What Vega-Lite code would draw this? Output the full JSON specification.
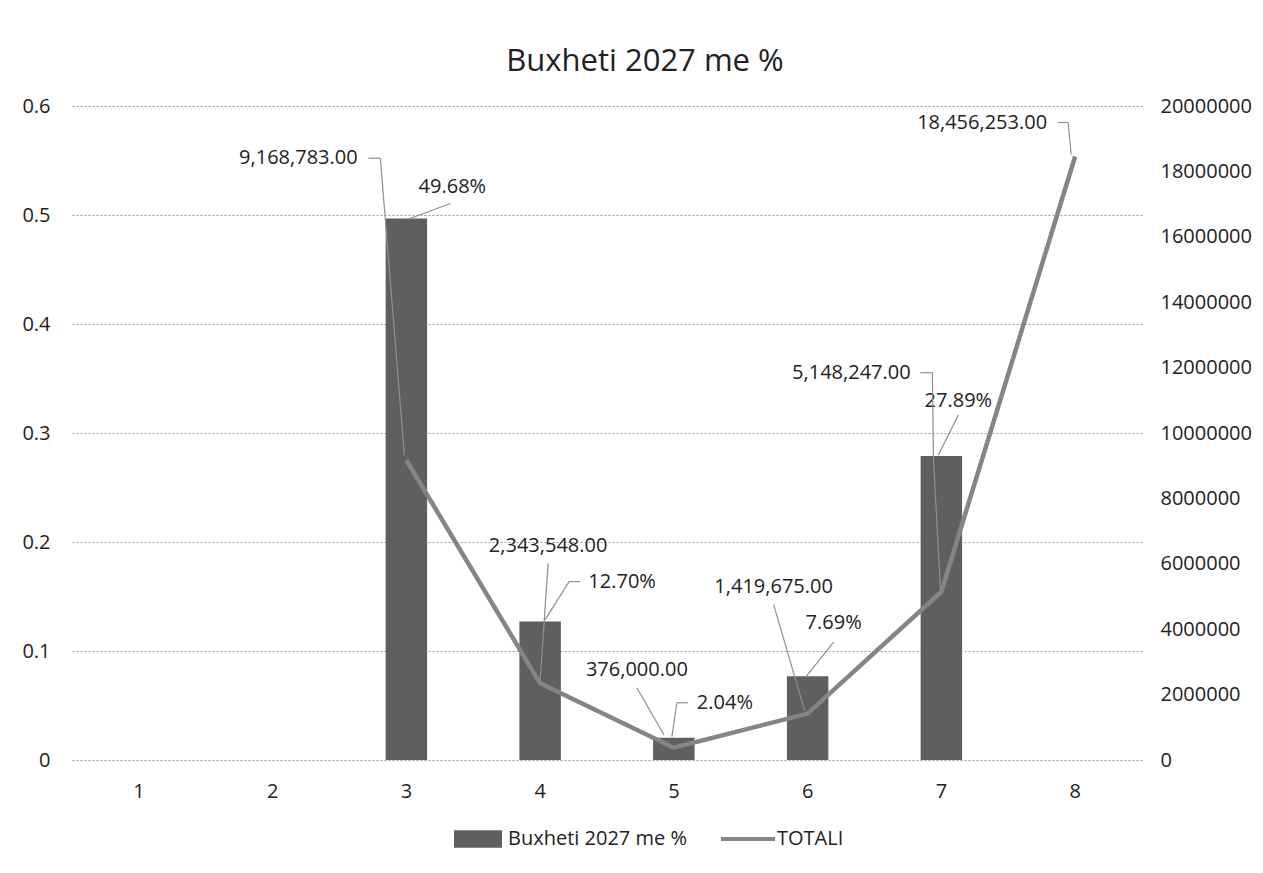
{
  "$schema": "https://vega.github.io/schema/vega-lite/v6.json",
  "width": 1070,
  "height": 654,
  "autosize": {"type": "none"},
  "padding": {"left": 72, "top": 106, "right": 121, "bottom": 113},
  "background": "white",
  "title": {"text": "Buxheti 2027 me %", "fontSize": 31, "font": "Open Sans", "fontWeight": "normal", "color": "#222222", "anchor": "middle", "dx": 38, "offset": 18, "frame": "group"},
  "config": {
    "view": {"stroke": null},
    "text": {"font": "Open Sans", "fontSize": 20, "color": "#222222"},
    "rule": {"color": "#8f8f8f", "strokeWidth": 1.2}
  },
  "data": {
    "values": [
      {"cat": 1, "pct": null, "total": null},
      {"cat": 2, "pct": null, "total": null},
      {"cat": 3, "pct": 0.4968, "total": 9168783},
      {"cat": 4, "pct": 0.127, "total": 2343548},
      {"cat": 5, "pct": 0.0204, "total": 376000},
      {"cat": 6, "pct": 0.0769, "total": 1419675},
      {"cat": 7, "pct": 0.2789, "total": 5148247},
      {"cat": 8, "pct": null, "total": 18456253}
    ]
  },
  "encoding": {
    "x": {
      "field": "cat", "type": "ordinal",
      "scale": {"domain": [1, 2, 3, 4, 5, 6, 7, 8], "paddingInner": 0, "paddingOuter": 0},
      "axis": {"title": null, "labelAngle": 0, "domain": false, "ticks": false, "tickSize": 0, "labelPadding": 21, "labelFontSize": 20, "labelFont": "Open Sans", "labelColor": "#222222"}
    }
  },
  "layer": [
    {
      "encoding": {
        "y": {
          "field": "pct", "type": "quantitative",
          "scale": {"domain": [0, 0.6], "nice": false},
          "axis": {"title": null, "values": [0, 0.1, 0.2, 0.3, 0.4, 0.5, 0.6], "format": ".1~f", "domain": false, "ticks": false, "tickSize": 0, "labelPadding": 22, "labelFontSize": 20, "labelFont": "Open Sans", "labelColor": "#222222", "grid": true, "gridDash": [2, 2], "gridColor": "#999999", "gridWidth": 1}
        }
      },
      "layer": [
        {
          "mark": {"type": "bar", "width": {"band": 0.31}},
          "encoding": {
            "fill": {"datum": "Buxheti 2027 me %", "type": "nominal", "scale": {"range": ["#5f5f5f"]},
              "legend": {"orient": "none", "legendX": 382, "legendY": 709, "title": null, "symbolType": "M-1,-0.36H1V0.36H-1Z", "symbolSize": 2304, "symbolStrokeWidth": 0, "labelFontSize": 20, "labelFont": "Open Sans", "labelColor": "#222222", "labelOffset": 6, "labelLimit": 400}}
          }
        },
        {"transform": [{"filter": "datum.cat == 3"}], "mark": {"type": "rule", "xOffset": 44, "yOffset": -15, "x2Offset": 1, "y2Offset": 1}, "encoding": {"x2": {"field": "cat"}, "y2": {"field": "pct"}}},
        {"transform": [{"filter": "datum.cat == 4"}], "mark": {"type": "rule", "xOffset": 29, "yOffset": -40, "x2Offset": 40, "y2Offset": -40}, "encoding": {"x2": {"field": "cat"}, "y2": {"field": "pct"}}},
        {"transform": [{"filter": "datum.cat == 4"}], "mark": {"type": "rule", "xOffset": 29, "yOffset": -40, "x2Offset": 5, "y2Offset": -2}, "encoding": {"x2": {"field": "cat"}, "y2": {"field": "pct"}}},
        {"transform": [{"filter": "datum.cat == 5"}], "mark": {"type": "rule", "xOffset": 3, "yOffset": -35, "x2Offset": 14, "y2Offset": -35}, "encoding": {"x2": {"field": "cat"}, "y2": {"field": "pct"}}},
        {"transform": [{"filter": "datum.cat == 5"}], "mark": {"type": "rule", "xOffset": 3, "yOffset": -35, "x2Offset": -2, "y2Offset": -1}, "encoding": {"x2": {"field": "cat"}, "y2": {"field": "pct"}}},
        {"transform": [{"filter": "datum.cat == 6"}], "mark": {"type": "rule", "xOffset": 26, "yOffset": -34, "x2Offset": -2, "y2Offset": 1}, "encoding": {"x2": {"field": "cat"}, "y2": {"field": "pct"}}},
        {"transform": [{"filter": "datum.cat == 7"}], "mark": {"type": "rule", "xOffset": 17, "yOffset": -41, "x2Offset": -3, "y2Offset": -1}, "encoding": {"x2": {"field": "cat"}, "y2": {"field": "pct"}}},
        {"transform": [{"filter": "datum.cat == 3"}], "mark": {"type": "text", "dx": 46, "dy": -31}, "encoding": {"text": {"field": "pct", "format": ".2%"}}},
        {"transform": [{"filter": "datum.cat == 4"}], "mark": {"type": "text", "dx": 82, "dy": -40}, "encoding": {"text": {"field": "pct", "format": ".2%"}}},
        {"transform": [{"filter": "datum.cat == 5"}], "mark": {"type": "text", "dx": 51, "dy": -35}, "encoding": {"text": {"field": "pct", "format": ".2%"}}},
        {"transform": [{"filter": "datum.cat == 6"}], "mark": {"type": "text", "dx": 26, "dy": -53}, "encoding": {"text": {"field": "pct", "format": ".2%"}}},
        {"transform": [{"filter": "datum.cat == 7"}], "mark": {"type": "text", "dx": 17, "dy": -55}, "encoding": {"text": {"field": "pct", "format": ".2%"}}}
      ]
    },
    {
      "encoding": {
        "y": {
          "field": "total", "type": "quantitative",
          "scale": {"domain": [0, 20000000], "nice": false},
          "axis": {"title": null, "orient": "right", "values": [0, 2000000, 4000000, 6000000, 8000000, 10000000, 12000000, 14000000, 16000000, 18000000, 20000000], "format": "d", "domain": false, "ticks": false, "tickSize": 0, "labelPadding": 18, "labelFontSize": 20, "labelFont": "Open Sans", "labelColor": "#222222", "grid": false}
        }
      },
      "layer": [
        {
          "transform": [{"filter": "datum.total != null"}],
          "mark": {"type": "line", "strokeWidth": 4.5},
          "encoding": {
            "stroke": {"datum": "TOTALI", "type": "nominal", "scale": {"range": ["#858585"]},
              "legend": {"orient": "none", "legendX": 647, "legendY": 704, "title": null, "symbolType": "stroke", "symbolSize": 2916, "symbolStrokeWidth": 4, "labelFontSize": 20, "labelFont": "Open Sans", "labelColor": "#222222", "labelOffset": 0, "labelLimit": 400}}
          }
        },
        {"transform": [{"filter": "datum.cat == 3"}], "mark": {"type": "rule", "xOffset": -38, "yOffset": -302, "x2Offset": -26, "y2Offset": -302}, "encoding": {"x2": {"field": "cat"}, "y2": {"field": "total"}}},
        {"transform": [{"filter": "datum.cat == 3"}], "mark": {"type": "rule", "xOffset": -26, "yOffset": -302, "x2Offset": -21, "y2Offset": -240}, "encoding": {"x2": {"field": "cat"}, "y2": {"field": "total"}}},
        {"transform": [{"filter": "datum.cat == 3"}], "mark": {"type": "rule", "xOffset": -21, "yOffset": -240, "x2Offset": -2, "y2Offset": -5}, "encoding": {"x2": {"field": "cat"}, "y2": {"field": "total"}}},
        {"transform": [{"filter": "datum.cat == 4"}], "mark": {"type": "rule", "xOffset": 8, "yOffset": -120, "x2Offset": 0, "y2Offset": -3}, "encoding": {"x2": {"field": "cat"}, "y2": {"field": "total"}}},
        {"transform": [{"filter": "datum.cat == 5"}], "mark": {"type": "rule", "xOffset": -37, "yOffset": -60, "x2Offset": -10, "y2Offset": -13}, "encoding": {"x2": {"field": "cat"}, "y2": {"field": "total"}}},
        {"transform": [{"filter": "datum.cat == 6"}], "mark": {"type": "rule", "xOffset": -34, "yOffset": -109, "x2Offset": -3, "y2Offset": -3}, "encoding": {"x2": {"field": "cat"}, "y2": {"field": "total"}}},
        {"transform": [{"filter": "datum.cat == 7"}], "mark": {"type": "rule", "xOffset": -21, "yOffset": -219, "x2Offset": -9, "y2Offset": -219}, "encoding": {"x2": {"field": "cat"}, "y2": {"field": "total"}}},
        {"transform": [{"filter": "datum.cat == 7"}], "mark": {"type": "rule", "xOffset": -9, "yOffset": -219, "x2Offset": -8, "y2Offset": -135}, "encoding": {"x2": {"field": "cat"}, "y2": {"field": "total"}}},
        {"transform": [{"filter": "datum.cat == 7"}], "mark": {"type": "rule", "xOffset": -8, "yOffset": -135, "x2Offset": -1, "y2Offset": -3}, "encoding": {"x2": {"field": "cat"}, "y2": {"field": "total"}}},
        {"transform": [{"filter": "datum.cat == 8"}], "mark": {"type": "rule", "xOffset": -17, "yOffset": -34, "x2Offset": -7, "y2Offset": -34}, "encoding": {"x2": {"field": "cat"}, "y2": {"field": "total"}}},
        {"transform": [{"filter": "datum.cat == 8"}], "mark": {"type": "rule", "xOffset": -7, "yOffset": -34, "x2Offset": -4, "y2Offset": -2}, "encoding": {"x2": {"field": "cat"}, "y2": {"field": "total"}}},
        {"transform": [{"filter": "datum.cat == 3"}], "mark": {"type": "text", "dx": -108, "dy": -302}, "encoding": {"text": {"field": "total", "format": ",.2f"}}},
        {"transform": [{"filter": "datum.cat == 4"}], "mark": {"type": "text", "dx": 8, "dy": -137}, "encoding": {"text": {"field": "total", "format": ",.2f"}}},
        {"transform": [{"filter": "datum.cat == 5"}], "mark": {"type": "text", "dx": -37, "dy": -78}, "encoding": {"text": {"field": "total", "format": ",.2f"}}},
        {"transform": [{"filter": "datum.cat == 6"}], "mark": {"type": "text", "dx": -34, "dy": -127}, "encoding": {"text": {"field": "total", "format": ",.2f"}}},
        {"transform": [{"filter": "datum.cat == 7"}], "mark": {"type": "text", "dx": -90, "dy": -219}, "encoding": {"text": {"field": "total", "format": ",.2f"}}},
        {"transform": [{"filter": "datum.cat == 8"}], "mark": {"type": "text", "dx": -93, "dy": -33}, "encoding": {"text": {"field": "total", "format": ",.2f"}}}
      ]
    }
  ],
  "resolve": {"scale": {"y": "independent", "fill": "independent", "stroke": "independent"}}
}
